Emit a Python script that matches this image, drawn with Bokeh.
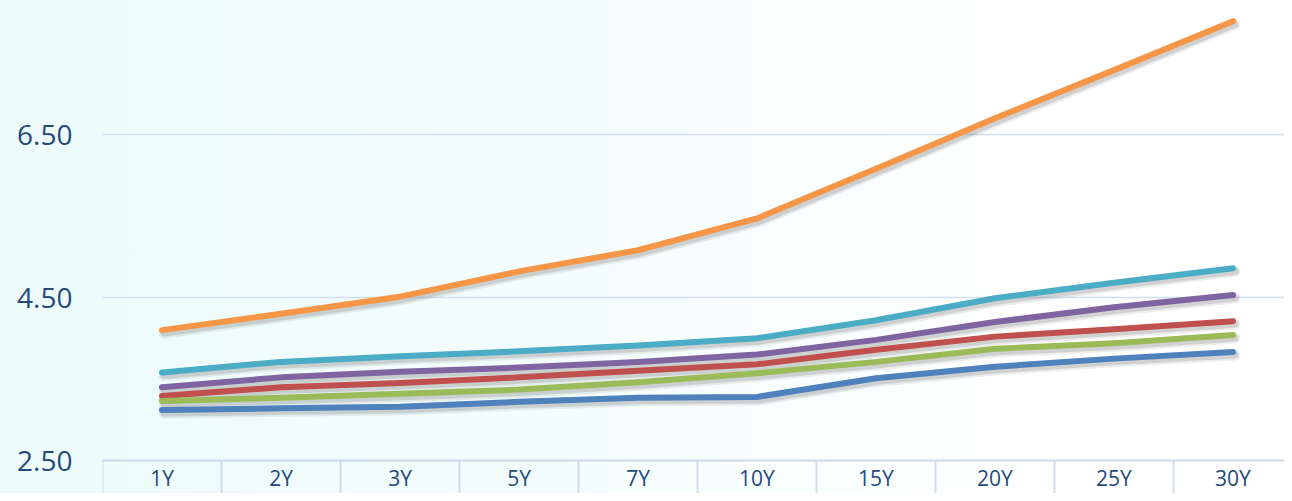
from bokeh.plotting import figure
from bokeh.models import (Range1d, FixedTicker, ColumnDataSource,
                          CustomJSTickFormatter, NumeralTickFormatter)
from bokeh.embed import file_html
from bokeh.resources import INLINE

# ---- data ----
tenors = ["1Y", "2Y", "3Y", "5Y", "7Y", "10Y", "15Y", "20Y", "25Y", "30Y"]
blue   = [3.12, 3.14, 3.16, 3.22, 3.27, 3.28, 3.51, 3.65, 3.75, 3.83]
red    = [3.29, 3.40, 3.45, 3.52, 3.60, 3.68, 3.86, 4.02, 4.11, 4.21]
green  = [3.23, 3.27, 3.32, 3.37, 3.46, 3.57, 3.71, 3.87, 3.94, 4.04]
purple = [3.40, 3.52, 3.59, 3.64, 3.71, 3.80, 3.98, 4.20, 4.38, 4.53]
teal   = [3.58, 3.71, 3.78, 3.84, 3.91, 4.00, 4.22, 4.49, 4.68, 4.86]
orange = [4.10, 4.30, 4.51, 4.82, 5.08, 5.47, 6.08, 6.70, 7.29, 7.89]
y_ticks = [2.50, 4.50, 6.50]

series = [
    ("blue", blue, "#4F81BD"),
    ("red", red, "#C0504D"),
    ("green", green, "#9BBB59"),
    ("purple", purple, "#8064A2"),
    ("teal", teal, "#4BACC6"),
    ("orange", orange, "#F79646"),
]

n = len(tenors)
xpos = [i + 0.5 for i in range(n)]
bounds = list(range(n + 1))

W, H = 1284, 493
LEFT = 102
CELL = 119.0           # px per category
AXIS_Y = 460.0         # px from top where 2.50 sits
PPU = 81.5             # px per y unit
X1 = (W - LEFT) / CELL
Y1 = 2.5 + AXIS_Y / PPU
Y0 = 2.5 - (H - AXIS_Y) / PPU
SHX = 2.0 / CELL
SHY = 3.0 / PPU

p = figure(width=W, height=H, output_backend="svg", toolbar_location=None,
           x_range=Range1d(0, X1), y_range=Range1d(Y0, Y1),
           min_border_left=LEFT, min_border_right=0, min_border_top=0,
           min_border_bottom=0)
p.extra_x_ranges = {"sx": Range1d(-SHX, X1 - SHX)}
p.extra_y_ranges = {"sy": Range1d(Y0 + SHY, Y1 + SHY)}

p.styles = {"background": "linear-gradient(to right, #edfbfb 0%, #f4fdfd 45%, #ffffff 80%)"}
p.background_fill_color = None
p.border_fill_color = None
p.outline_line_color = None

# category separators below the axis line
sep_color = "#d0dcec"
p.segment(x0=bounds, y0=[2.5] * len(bounds), x1=bounds, y1=[Y0] * len(bounds),
          line_color=sep_color, line_width=2)

# soft shadows
for name, vals, col in series:
    src = ColumnDataSource(dict(x=xpos, y=vals))
    p.line("x", "y", source=src, x_range_name="sx", y_range_name="sy",
           line_color="#6f6f6f", line_alpha=0.12, line_width=11,
           line_cap="round", line_join="round")
    p.line("x", "y", source=src, x_range_name="sx", y_range_name="sy",
           line_color="#6f6f6f", line_alpha=0.22, line_width=7,
           line_cap="round", line_join="round")
# lines
for name, vals, col in series:
    src = ColumnDataSource(dict(x=xpos, y=vals))
    p.line("x", "y", source=src, line_color=col, line_width=6,
           line_cap="round", line_join="round")

label_color = "#244a7c"
font = "Open Sans"

# y axis
ya = p.yaxis[0]
ya.ticker = FixedTicker(ticks=y_ticks)
ya.formatter = NumeralTickFormatter(format="0.00")
ya.axis_line_color = None
ya.major_tick_line_color = None
ya.minor_tick_line_color = None
ya.major_tick_out = 0
ya.major_tick_in = 0
ya.major_label_standoff = 30
ya.major_label_text_font = font
ya.major_label_text_font_size = "28px"
ya.major_label_text_color = label_color

p.ygrid.ticker = FixedTicker(ticks=y_ticks)
p.ygrid.grid_line_color = "#d3e0f2"
p.ygrid.grid_line_width = 1.5
p.xgrid.visible = False

# x axis
xa = p.xaxis[0]
xa.fixed_location = 2.5
xa.ticker = FixedTicker(ticks=xpos)
xa.formatter = CustomJSTickFormatter(args=dict(labels=tenors),
                                     code="return labels[Math.floor(tick)];")
xa.axis_line_color = sep_color
xa.axis_line_width = 2
xa.major_tick_line_color = None
xa.minor_tick_line_color = None
xa.major_tick_out = 0
xa.major_tick_in = 0
xa.minor_tick_out = 0
xa.minor_tick_in = 0
xa.major_label_standoff = 3
xa.major_label_text_font = font
xa.major_label_text_font_size = "21px"
xa.major_label_text_color = label_color

open("out.html", "w").write(file_html(p, INLINE))
